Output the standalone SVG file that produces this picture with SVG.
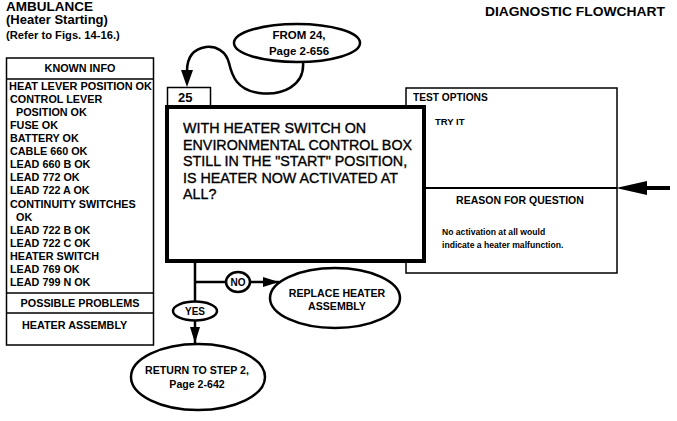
<svg xmlns="http://www.w3.org/2000/svg" width="677" height="421" viewBox="0 0 677 421">
<defs>
<style>
text{font-family:"Liberation Sans",Arial,sans-serif;fill:#000}
.b{font-weight:bold}
.box{fill:#fff;stroke:#000;stroke-width:1.5}
.ln{fill:none;stroke:#000;stroke-width:2.5}
.ov{fill:#fff;stroke:#000;stroke-width:2.5}
.li{font-size:10.8px;font-weight:bold}
.c{text-anchor:middle}
.q{font-size:14.3px;stroke:#000;stroke-width:0.35}
</style>
<marker id="ah" viewBox="0 0 16 10" refX="16" refY="5" markerWidth="16" markerHeight="10" markerUnits="userSpaceOnUse" orient="auto">
<path d="M0,0 L16,5 L0,10 Z" fill="#000"/>
</marker>
</defs>
<rect width="677" height="421" fill="#fff"/>

<g id="header">
<text class="b" x="6" y="10.5" font-size="13.5">AMBULANCE</text>
<text class="b" x="6" y="24" font-size="13">(Heater Starting)</text>
<text class="b" x="6" y="39" font-size="11.2">(Refer to Figs. 14-16.)</text>
<text class="b" x="485" y="16" font-size="12.5" textLength="180" lengthAdjust="spacingAndGlyphs">DIAGNOSTIC FLOWCHART</text>
</g>

<g id="known-info">
<rect class="box" x="6.5" y="58" width="147" height="287"/>
<line x1="6.5" y1="79" x2="153.5" y2="79" stroke="#000" stroke-width="1.5"/>
<line x1="6.5" y1="293" x2="153.5" y2="293" stroke="#000" stroke-width="1.5"/>
<line x1="6.5" y1="313" x2="153.5" y2="313" stroke="#000" stroke-width="1.5"/>
<text class="li c" x="80" y="72">KNOWN INFO</text>
<text class="li" x="9" y="90" textLength="143" lengthAdjust="spacingAndGlyphs">HEAT LEVER POSITION OK</text>
<text class="li" x="10" y="103">CONTROL LEVER</text>
<text class="li" x="16" y="116">POSITION OK</text>
<text class="li" x="10" y="129">FUSE OK</text>
<text class="li" x="10" y="142">BATTERY OK</text>
<text class="li" x="10" y="155">CABLE 660 OK</text>
<text class="li" x="10" y="168">LEAD 660 B OK</text>
<text class="li" x="10" y="181">LEAD 772 OK</text>
<text class="li" x="10" y="194">LEAD 722 A OK</text>
<text class="li" x="10" y="208">CONTINUITY SWITCHES</text>
<text class="li" x="16" y="221">OK</text>
<text class="li" x="10" y="234">LEAD 722 B OK</text>
<text class="li" x="10" y="247">LEAD 722 C OK</text>
<text class="li" x="10" y="260">HEATER SWITCH</text>
<text class="li" x="10" y="273">LEAD 769 OK</text>
<text class="li" x="10" y="286">LEAD 799 N OK</text>
<text class="li c" x="80" y="307">POSSIBLE PROBLEMS</text>
<text class="li" x="22" y="329">HEATER ASSEMBLY</text>
</g>

<g id="test-options">
<rect class="box" x="406" y="88" width="211" height="185"/>
<line x1="425" y1="188" x2="617" y2="188" stroke="#000" stroke-width="1.8"/>
<text class="b" x="413" y="101" font-size="10.2">TEST OPTIONS</text>
<text class="b" x="435" y="125" font-size="9.5">TRY IT</text>
<text class="b c" x="520" y="204" font-size="10.5">REASON FOR QUESTION</text>
<text class="b" x="442" y="235" font-size="8.6">No activation at all would</text>
<text class="b" x="442" y="248" font-size="8.6">indicate a heater malfunction.</text>
</g>

<g id="step-25">
<rect x="167.5" y="87.5" width="43" height="19" fill="#fff" stroke="#000" stroke-width="1.5"/>
<text class="b" x="178" y="102" font-size="13">25</text>
<rect x="167" y="107" width="257" height="154" fill="#fff" stroke="#000" stroke-width="4"/>
<text class="q" x="183" y="133">WITH HEATER SWITCH ON</text>
<text class="q" x="183" y="149.5">ENVIRONMENTAL CONTROL BOX</text>
<text class="q" x="183" y="166">STILL IN THE "START" POSITION,</text>
<text class="q" x="183" y="182.5">IS HEATER NOW ACTIVATED AT</text>
<text class="q" x="183" y="199">ALL?</text>
</g>

<g id="connectors">
<path class="ln" d="M303,62 C305,86 282,96 259,93 C237,90 232,76 229,63 C226,51 216,46 206,47 C193,49 187,58 187,71" />
<polygon points="181,70 193,70 187,87" fill="#000"/>
<line class="ln" x1="195" y1="263" x2="195" y2="302"/>
<line class="ln" x1="195" y1="320" x2="195" y2="343" marker-end="url(#ah)"/>
<line class="ln" x1="195" y1="282" x2="226" y2="282"/>
<line class="ln" x1="250" y1="282" x2="279" y2="282" marker-end="url(#ah)"/>
<line x1="670" y1="188" x2="645" y2="188" stroke="#000" stroke-width="4"/>
<polygon points="616,188 647,181 647,195" fill="#000"/>
</g>

<g id="from-24">
<ellipse class="ov" cx="297" cy="43" rx="63" ry="19"/>
<text class="b c" x="299" y="39" font-size="11.5">FROM 24,</text>
<text class="b c" x="299" y="55" font-size="11.5">Page 2-656</text>
</g>

<g id="no-label">
<ellipse class="ov" cx="238" cy="282" rx="12" ry="10"/>
<text class="b c" x="238" y="286" font-size="10">NO</text>
</g>

<g id="yes-label">
<ellipse class="ov" cx="195" cy="311" rx="22" ry="9.5"/>
<text class="b c" x="195" y="315" font-size="10">YES</text>
</g>

<g id="replace-heater">
<ellipse class="ov" cx="335" cy="298" rx="65" ry="30"/>
<text class="b c" x="337" y="297" font-size="10.6">REPLACE HEATER</text>
<text class="b c" x="337" y="310" font-size="10.6">ASSEMBLY</text>
</g>

<g id="return-step-2">
<ellipse class="ov" cx="198" cy="377" rx="67" ry="33"/>
<text class="b c" x="197" y="374" font-size="10.6">RETURN TO STEP 2,</text>
<text class="b c" x="197" y="388" font-size="10.6">Page 2-642</text>
</g>
</svg>
